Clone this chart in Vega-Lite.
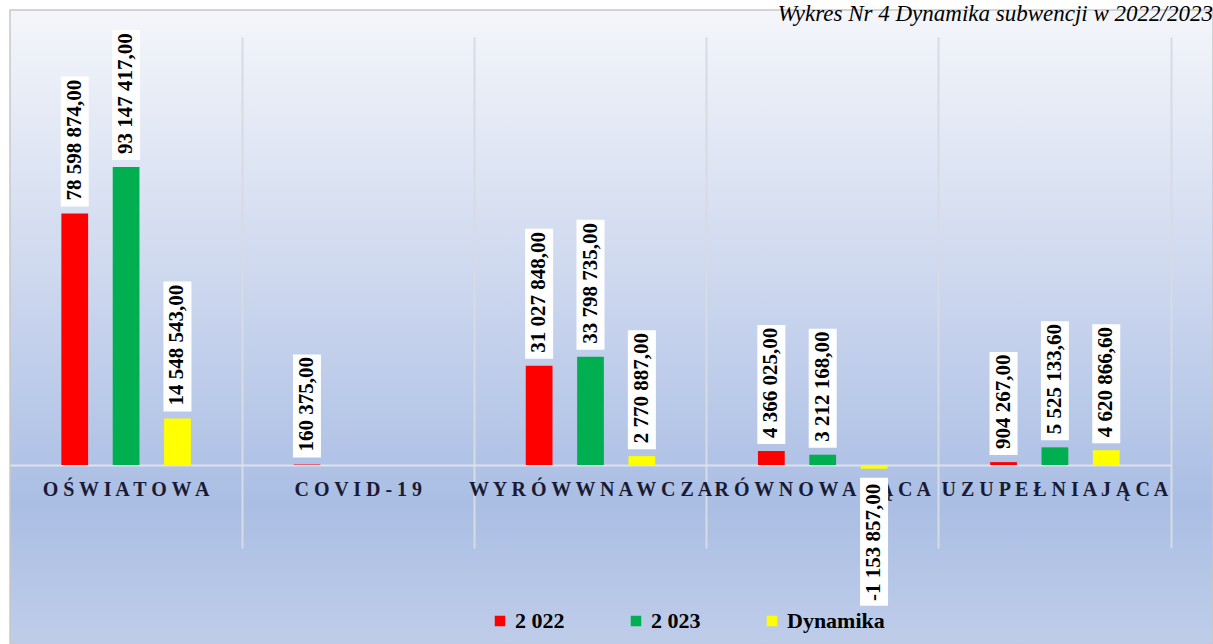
{
  "$schema": "https://vega.github.io/schema/vega-lite/v6.json",
  "width": 1203,
  "height": 634,
  "autosize": "none",
  "padding": {"left": 10, "top": 10, "right": 0, "bottom": 0},
  "background": "white",
  "title": {
    "text": "Wykres Nr 4  Dynamika subwencji w 2022/2023",
    "anchor": "end",
    "frame": "group",
    "font": "Liberation Serif",
    "fontStyle": "italic",
    "fontWeight": "normal",
    "fontSize": 23,
    "baseline": "alphabetic",
    "offset": -34,
    "dx": 0,
    "color": "#000000"
  },
  "view": {
    "fill": {
      "gradient": "linear",
      "x1": 0, "y1": 0, "x2": 0, "y2": 1,
      "stops": [
        {"offset": 0, "color": "#f4f6fa"},
        {"offset": 0.45, "color": "#cbd6ee"},
        {"offset": 0.78, "color": "#aabee4"},
        {"offset": 1, "color": "#bfcde9"}
      ]
    },
    "stroke": "#c8c8c8",
    "strokeWidth": 1.5
  },
  "config": {
    "locale": {
      "number": {"decimal": ",", "thousands": " ", "grouping": [3], "currency": ["", " zł"], "minus": "-"}
    }
  },
  "data": {
    "values": [
      {"category": "OŚWIATOWA", "series": "2 022", "value": 78598874},
      {"category": "OŚWIATOWA", "series": "2 023", "value": 93147417},
      {"category": "OŚWIATOWA", "series": "Dynamika", "value": 14548543},
      {"category": "COVID-19", "series": "2 022", "value": 160375},
      {"category": "WYRÓWWNAWCZA", "series": "2 022", "value": 31027848},
      {"category": "WYRÓWWNAWCZA", "series": "2 023", "value": 33798735},
      {"category": "WYRÓWWNAWCZA", "series": "Dynamika", "value": 2770887},
      {"category": "RÓWNOWAŻĄCA", "series": "2 022", "value": 4366025},
      {"category": "RÓWNOWAŻĄCA", "series": "2 023", "value": 3212168},
      {"category": "RÓWNOWAŻĄCA", "series": "Dynamika", "value": -1153857},
      {"category": "UZUPEŁNIAJĄCA", "series": "2 022", "value": 904267},
      {"category": "UZUPEŁNIAJĄCA", "series": "2 023", "value": 5525133.6},
      {"category": "UZUPEŁNIAJĄCA", "series": "Dynamika", "value": 4620866.6}
    ]
  },
  "resolve": {"axis": {"x": "independent"}},
  "layer": [
    {
      "mark": {"type": "bar"},
      "encoding": {
        "x": {
          "field": "category",
          "type": "nominal",
          "sort": null,
          "scale": {"range": [0, 1161], "paddingInner": 0, "paddingOuter": 0},
          "axis": {
            "title": null,
            "orient": "top",
            "labels": false,
            "ticks": false,
            "domain": false,
            "grid": true,
            "bandPosition": 1,
            "gridColor": "#d6dbe4",
            "gridWidth": 2,
            "gridOpacity": 1
          }
        },
        "xOffset": {
          "field": "series",
          "type": "nominal",
          "sort": ["2 022", "2 023", "Dynamika"],
          "scale": {"paddingInner": 0.479, "paddingOuter": 1.158}
        },
        "y": {
          "field": "value",
          "type": "quantitative",
          "stack": null,
          "axis": null,
          "scale": {"domain": [-25937500, 133750000], "range": [538, 27], "nice": false, "zero": false}
        },
        "color": {
          "field": "series",
          "type": "nominal",
          "scale": {"domain": ["2 022", "2 023", "Dynamika"], "range": ["#ff0000", "#00b050", "#ffff00"]},
          "legend": {
            "title": null,
            "orient": "none",
            "direction": "horizontal",
            "legendX": 479,
            "legendY": 600,
            "symbolType": "square",
            "symbolSize": 110,
            "symbolStrokeWidth": 0,
            "symbolOpacity": 1,
            "labelFont": "Liberation Serif",
            "labelFontSize": 22,
            "labelFontWeight": "bold",
            "labelColor": "#000000",
            "labelOffset": 4,
            "columnPadding": 60
          }
        }
      }
    },
    {
      "transform": [{"filter": "datum.value >= 0 && datum.value < 1000000"}],
      "mark": {"type": "bar", "color": "#ffffff", "width": 28, "yOffset": -7, "y2Offset": -110},
      "encoding": {
        "x": {"field": "category", "type": "nominal", "sort": null, "axis": null},
        "xOffset": {"field": "series", "type": "nominal", "sort": ["2 022", "2 023", "Dynamika"]},
        "y": {"field": "value", "type": "quantitative"},
        "y2": {"field": "value"}
      }
    },
    {
      "transform": [{"filter": "datum.value >= 1000000 && datum.value < 10000000"}],
      "mark": {"type": "bar", "color": "#ffffff", "width": 28, "yOffset": -7, "y2Offset": -126},
      "encoding": {
        "x": {"field": "category", "type": "nominal", "sort": null, "axis": null},
        "xOffset": {"field": "series", "type": "nominal", "sort": ["2 022", "2 023", "Dynamika"]},
        "y": {"field": "value", "type": "quantitative"},
        "y2": {"field": "value"}
      }
    },
    {
      "transform": [{"filter": "datum.value >= 10000000"}],
      "mark": {"type": "bar", "color": "#ffffff", "width": 28, "yOffset": -7, "y2Offset": -137},
      "encoding": {
        "x": {"field": "category", "type": "nominal", "sort": null, "axis": null},
        "xOffset": {"field": "series", "type": "nominal", "sort": ["2 022", "2 023", "Dynamika"]},
        "y": {"field": "value", "type": "quantitative"},
        "y2": {"field": "value"}
      }
    },
    {
      "transform": [{"filter": "datum.value < 0"}],
      "mark": {"type": "bar", "color": "#ffffff", "width": 28, "yOffset": 9, "y2Offset": 137},
      "encoding": {
        "x": {"field": "category", "type": "nominal", "sort": null, "axis": null},
        "xOffset": {"field": "series", "type": "nominal", "sort": ["2 022", "2 023", "Dynamika"]},
        "y": {"field": "value", "type": "quantitative"},
        "y2": {"field": "value"}
      }
    },
    {
      "transform": [{"filter": "datum.value >= 0"}],
      "mark": {"type": "text", "angle": 270, "align": "left", "baseline": "middle", "dx": 13, "font": "Liberation Serif", "fontSize": 21, "fontWeight": "bold", "color": "#000000"},
      "encoding": {
        "x": {
          "field": "category",
          "type": "nominal",
          "sort": null,
          "axis": {
            "title": null,
            "orient": "bottom",
            "offset": -179,
            "labelAngle": 0,
            "labelExpr": "join(split(datum.label, ''), ' ')",
            "labelFont": "Liberation Serif",
            "labelFontSize": 20,
            "labelFontWeight": "bold",
            "labelColor": "#1a1a33",
            "labelPadding": 14,
            "labelOverlap": false,
            "labelBound": false,
            "labelLimit": 0,
            "ticks": false,
            "grid": false,
            "domain": true,
            "domainColor": "#dde2ec",
            "domainWidth": 2
          }
        },
        "xOffset": {"field": "series", "type": "nominal", "sort": ["2 022", "2 023", "Dynamika"]},
        "y": {"field": "value", "type": "quantitative"},
        "text": {"field": "value", "type": "quantitative", "format": ",.2f"}
      }
    },
    {
      "transform": [{"filter": "datum.value < 0"}],
      "mark": {"type": "text", "angle": 270, "align": "right", "baseline": "middle", "dx": -15, "font": "Liberation Serif", "fontSize": 21, "fontWeight": "bold", "color": "#000000"},
      "encoding": {
        "x": {"field": "category", "type": "nominal", "sort": null, "axis": null},
        "xOffset": {"field": "series", "type": "nominal", "sort": ["2 022", "2 023", "Dynamika"]},
        "y": {"field": "value", "type": "quantitative"},
        "text": {"field": "value", "type": "quantitative", "format": ",.2f"}
      }
    }
  ]
}
